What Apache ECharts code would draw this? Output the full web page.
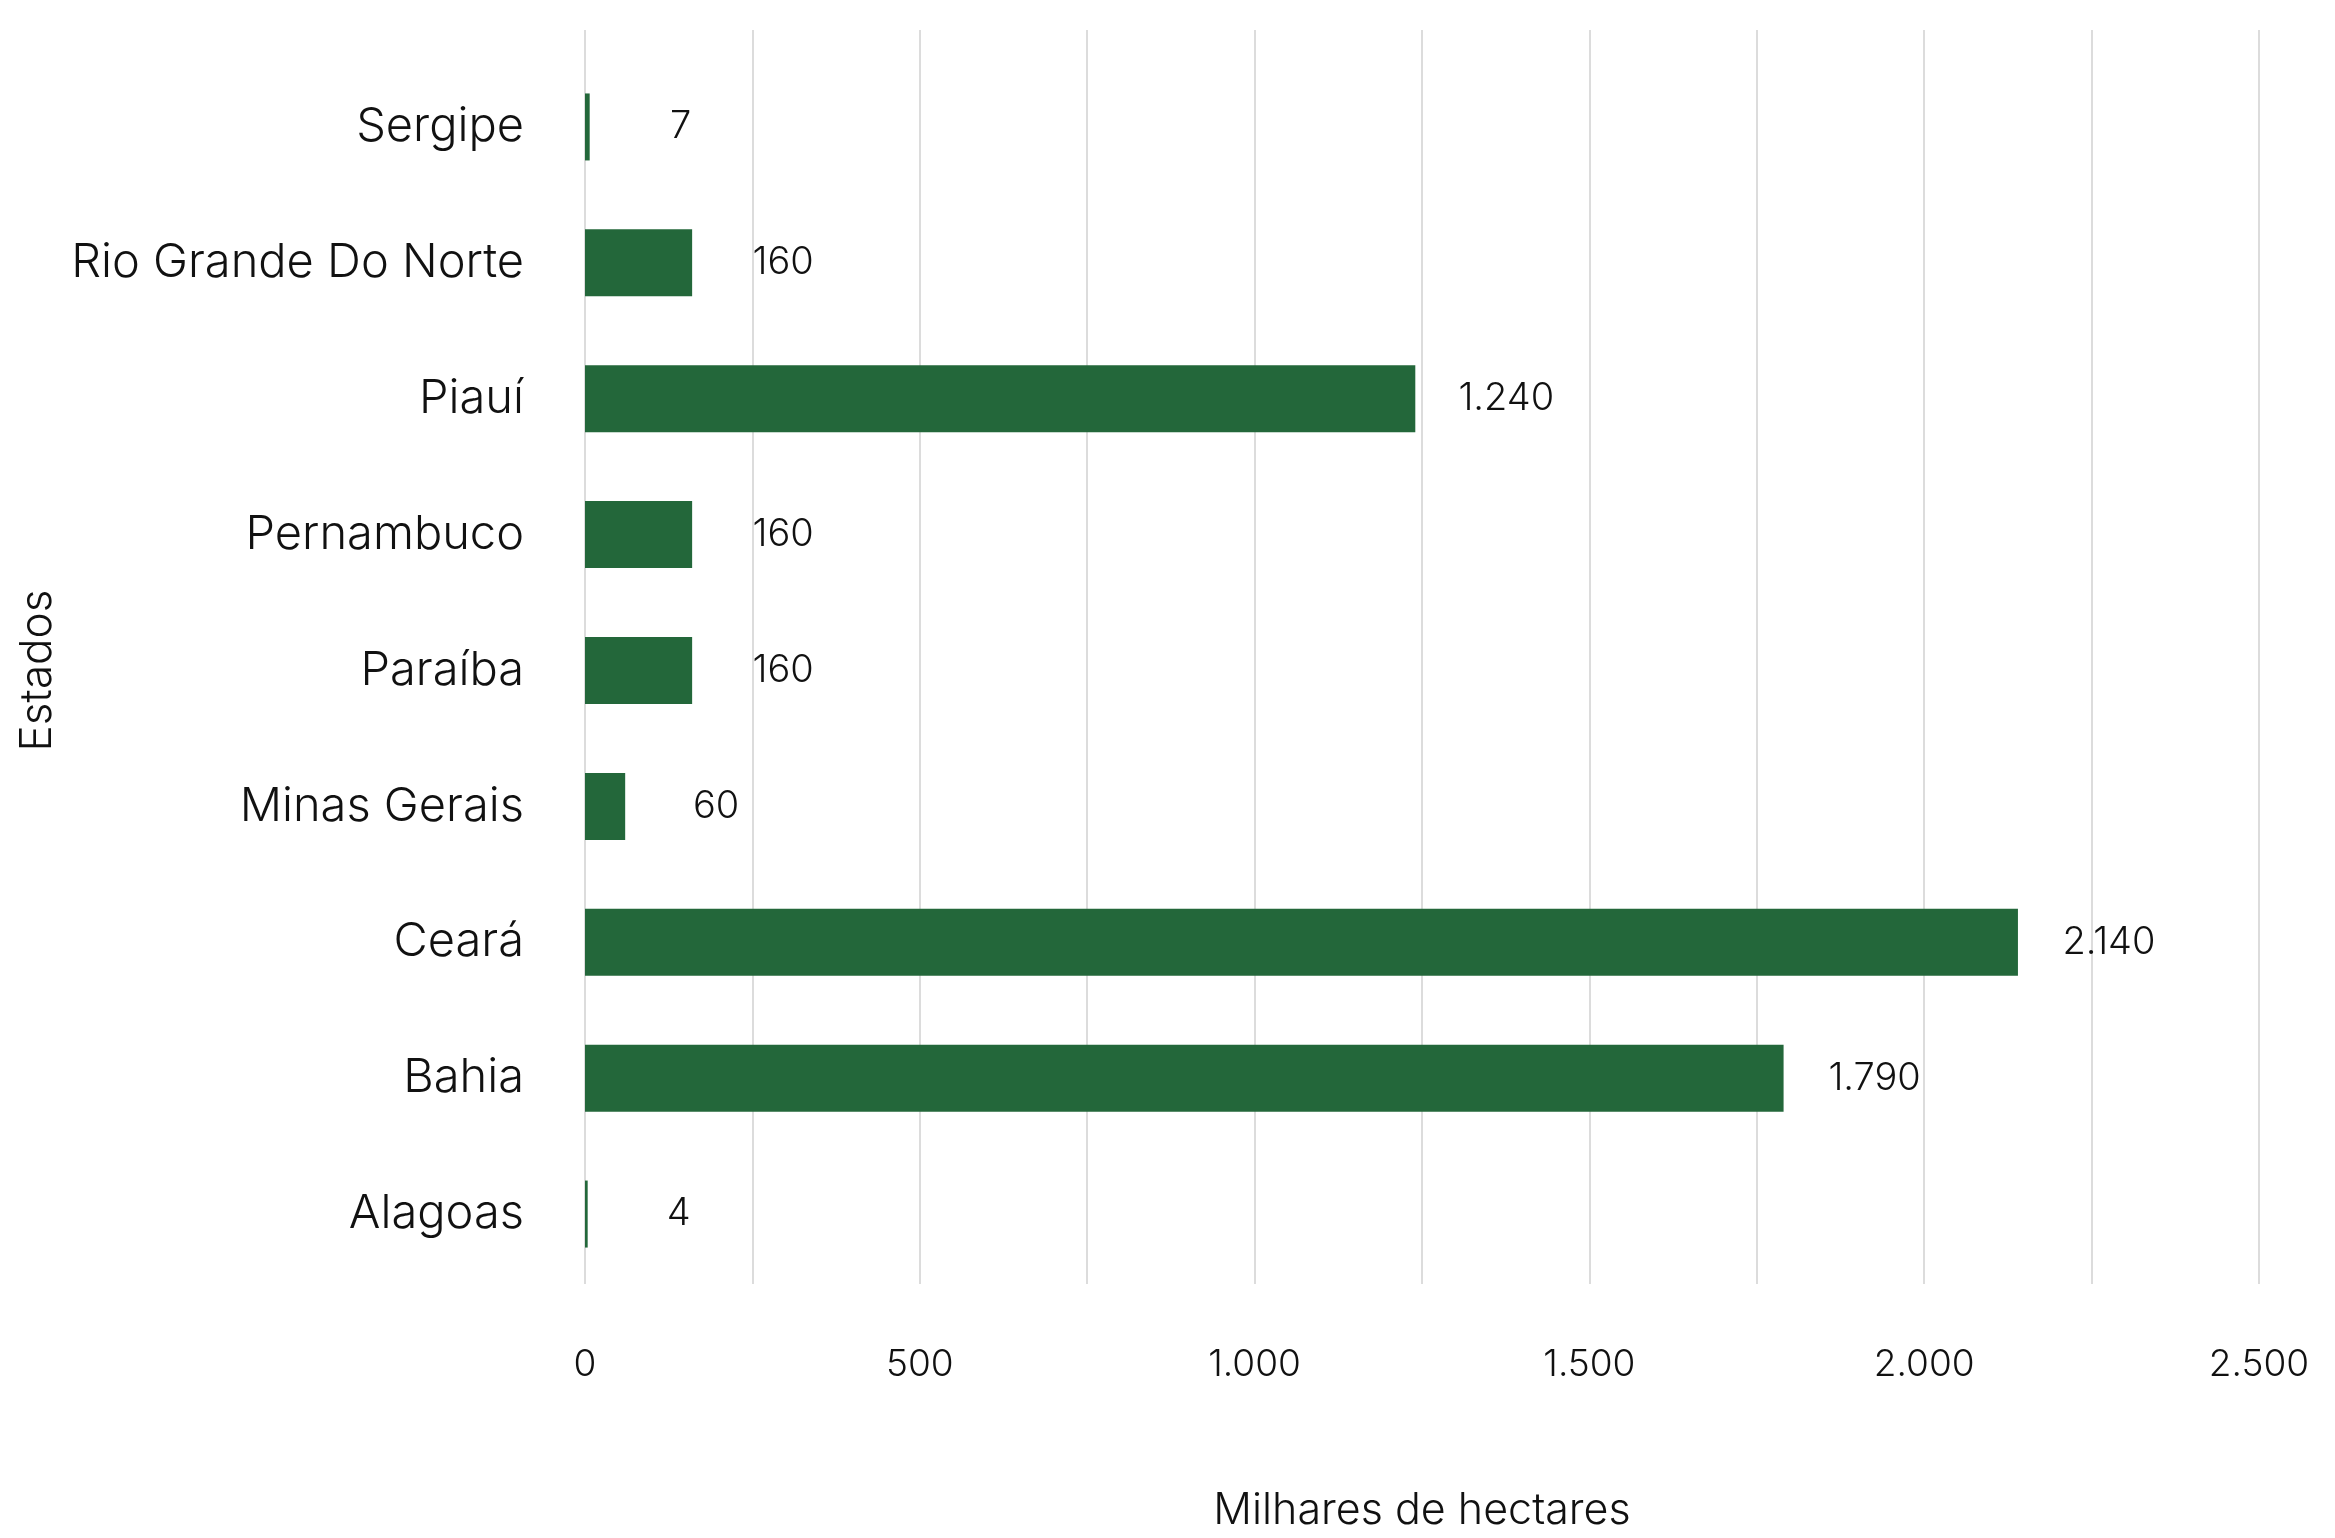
<!DOCTYPE html>
<html>
<head>
<meta charset="utf-8">
<script src="https://cdn.jsdelivr.net/npm/echarts@6/dist/echarts.min.js"></script>
<style>
html,body{margin:0;padding:0;background:#fff;}
#c{width:2335px;height:1538px;}
</style>
</head>
<body>
<div id="c"></div>
<script>
const categories = ['Alagoas','Bahia','Ceará','Minas Gerais','Paraíba','Pernambuco','Piauí','Rio Grande Do Norte','Sergipe'];
const values = [4, 1790, 2140, 60, 160, 160, 1240, 160, 7];
const xTicks = [0, 500, 1000, 1500, 2000, 2500];
const xAxisName = 'Milhares de hectares';
const yAxisName = 'Estados';

const FONT = 'Inter';
const W = 300;
const TXT = '#111111';
function fmt(v){
  return String(v).replace(/\B(?=(\d{3})+(?!\d))/g, '.');
}
const chart = echarts.init(document.getElementById('c'));
chart.setOption({
  backgroundColor: '#ffffff',
  animation: false,
  textStyle: {fontFamily: FONT},
  grid: [
    {left: 585, right: 76, top: 30, bottom: 254},
    {left: 585, right: 76, top: 59, bottom: 254}
  ],
  xAxis: [
    {
      gridIndex: 0, type: 'value', min: 0, max: 2500, interval: 250,
      axisLine: {show: false}, axisTick: {show: false}, axisLabel: {show: false},
      splitLine: {show: true, lineStyle: {color: '#dcdcdc', width: 2}}
    },
    {
      gridIndex: 1, type: 'value', min: 0, max: 2500, interval: 250,
      axisLine: {show: false}, axisTick: {show: false},
      splitLine: {show: false},
      axisLabel: {
        margin: 64, fontSize: 37, fontWeight: W, color: TXT, fontFamily: FONT,
        formatter: function(v){ return xTicks.indexOf(v) >= 0 ? fmt(v) : ''; }
      },
      name: xAxisName, nameLocation: 'middle', nameGap: 208,
      nameTextStyle: {fontSize: 43, fontWeight: W, color: TXT, fontFamily: FONT}
    }
  ],
  yAxis: [
    {gridIndex: 0, type: 'category', data: categories, show: false},
    {
      gridIndex: 1, type: 'category', data: categories,
      axisLine: {show: false}, axisTick: {show: false},
      axisLabel: {margin: 61, fontSize: 47, fontWeight: W, color: TXT, fontFamily: FONT},
      name: yAxisName, nameLocation: 'middle', nameRotate: 90, nameGap: 525,
      nameTextStyle: {fontSize: 44, fontWeight: W, color: TXT, fontFamily: FONT}
    }
  ],
  series: [{
    type: 'bar', xAxisIndex: 1, yAxisIndex: 1,
    data: values, barWidth: 67,
    itemStyle: {color: '#23673A'},
    label: {
      show: true, position: 'right', distance: 91, align: 'center',
      fontSize: 38, fontWeight: W, color: TXT, fontFamily: FONT,
      formatter: function(p){ return fmt(p.value); }
    }
  }]
});
</script>
</body>
</html>
